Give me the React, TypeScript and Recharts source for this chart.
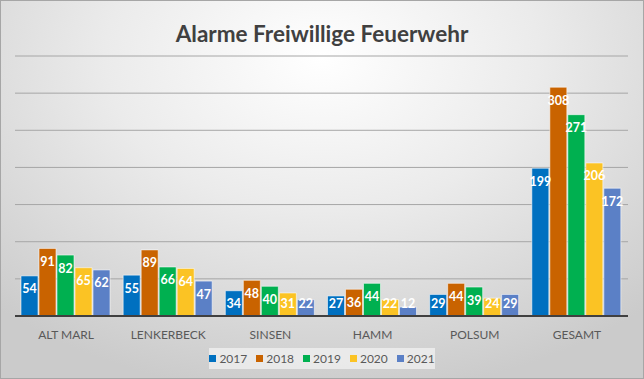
import { BarChart, Bar, XAxis, YAxis, CartesianGrid, Legend } from 'recharts'

const orte = ['ALT MARL', 'LENKERBECK', 'SINSEN', 'HAMM', 'POLSUM', 'GESAMT']
const jahre = ['2017', '2018', '2019', '2020', '2021']
const alarme2017 = [54, 55, 34, 27, 29, 199]
const alarme2018 = [91, 89, 48, 36, 44, 308]
const alarme2019 = [82, 66, 40, 44, 39, 271]
const alarme2020 = [65, 64, 31, 22, 24, 206]
const alarme2021 = [62, 47, 22, 12, 29, 172]
const yTicks = [0, 50, 100, 150, 200, 250, 300, 350]

const farben = ['#0070C0', '#C96300', '#00B050', '#FBC324', '#5B80C6']
const serien = [alarme2017, alarme2018, alarme2019, alarme2020, alarme2021]

const data = orte.map((ort, i) => {
  const row: Record<string, any> = { ort }
  jahre.forEach((j, k) => { row[j] = serien[k][i] })
  return row
})

const font = 'Lato, "Open Sans", sans-serif'

function BarLabel(props: any) {
  const { x, y, width, height, value } = props
  const cy = Math.min(y + 13, y + height - 13)
  return (
    <text x={x + width / 2} y={cy} textAnchor="middle" dominantBaseline="central"
      fill="#fff" fontSize={12.5} fontWeight={700} fontFamily={font}>{value}</text>
  )
}

function LegendBox() {
  return (
    <div style={{ display: 'flex', justifyContent: 'center', gap: 9, background: 'rgba(242,242,242,0.75)', height: 21, alignItems: 'center', fontFamily: font, fontSize: 12, color: '#595959' }}>
      {jahre.map((j, k) => (
        <span key={j} style={{ display: 'flex', alignItems: 'center', gap: 3 }}>
          <span style={{ width: 7, height: 7, background: farben[k], display: 'inline-block' }} />
          {j}
        </span>
      ))}
    </div>
  )
}

export default function App() {
  return (
    <div style={{ position: 'absolute', left: 0, top: 0, width: 642, height: 377, border: '1px solid #a6a6a6', background: 'radial-gradient(ellipse 75% 90% at 50% 15%, #ffffff 0%, #ebebeb 45%, #cbcbcb 100%)' }}>
      <div style={{ position: 'absolute', top: 19, left: 0, width: 642, textAlign: 'center', fontFamily: font, fontWeight: 700, fontSize: 22.5, color: '#404040' }}>
        Alarme Freiwillige Feuerwehr
      </div>
      <BarChart width={642} height={377} data={data} margin={{ top: 55, right: 15, left: 14, bottom: 11 }}
        barCategoryGap={6} barGap={1}>
        <CartesianGrid vertical={false} stroke="#a6a6a6" />
        <XAxis dataKey="ort" tickLine={false} axisLine={{ stroke: '#404040', strokeWidth: 2 }} height={30}
          tick={{ fontSize: 12, fill: '#595959', fontFamily: font }} tickMargin={8} interval={0} />
        <YAxis hide domain={[0, 350]} ticks={yTicks} />
        <Legend content={<LegendBox />} wrapperStyle={{ position: 'absolute', top: 347, left: 208, width: 226, height: 21 }} />
        {jahre.map((j, k) => (
          <Bar key={j} dataKey={j} fill={farben[k]} stroke="rgba(255,255,255,0.55)" strokeWidth={1}
            isAnimationActive={false} label={<BarLabel />} />
        ))}
      </BarChart>
    </div>
  )
}
